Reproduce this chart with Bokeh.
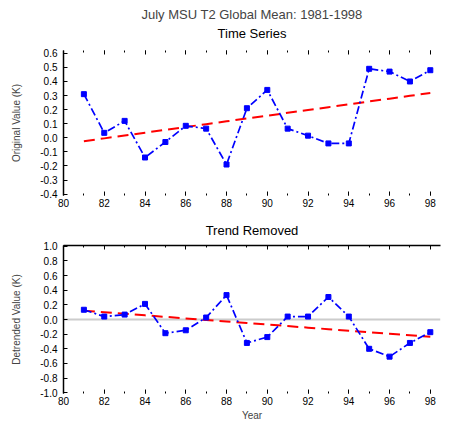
import numpy as np
from bokeh.plotting import figure
from bokeh.layouts import column
from bokeh.models import LinearAxis, FixedTicker, Span, Range1d
from bokeh.embed import file_html
from bokeh.resources import INLINE

# ---- data ----
years = [1981, 1982, 1983, 1984, 1985, 1986, 1987, 1988, 1989,
         1990, 1991, 1992, 1993, 1994, 1995, 1996, 1997, 1998]
original = [0.31, 0.035, 0.12, -0.14, -0.03, 0.085, 0.065, -0.19, 0.21,
            0.34, 0.065, 0.015, -0.04, -0.04, 0.49, 0.47, 0.40, 0.48]
detrended = [0.133, 0.04, 0.067, 0.213, -0.187, -0.147, 0.027, 0.333, -0.32,
             -0.24, 0.04, 0.04, 0.307, 0.04, -0.40, -0.507, -0.32, -0.173]

x_ticks = [1980, 1982, 1984, 1986, 1988, 1990, 1992, 1994, 1996, 1998]
x_tick_labels = ["80", "82", "84", "86", "88", "90", "92", "94", "96", "98"]
top_y_ticks = [-0.4, -0.3, -0.2, -0.1, 0.0, 0.1, 0.2, 0.3, 0.4, 0.5, 0.6]
top_y_labels = ["-0.4", "-0.3", "-0.2", "-0.1", "0.0", "0.1", "0.2", "0.3", "0.4", "0.5", "0.6"]
bot_y_ticks = [-1.0, -0.8, -0.6, -0.4, -0.2, 0.0, 0.2, 0.4, 0.6, 0.8, 1.0]
bot_y_labels = ["-1.0", "-0.8", "-0.6", "-0.4", "-0.2", "0.0", "0.2", "0.4", "0.6", "0.8", "1.0"]

main_title = "July MSU T2 Global Mean: 1981-1998"
top_subtitle = "Time Series"
bot_subtitle = "Trend Removed"
top_ylabel = "Original Value (K)"
bot_ylabel = "Detrended Value (K)"
xlabel = "Year"

FONT = "Liberation Sans"


def make_panel(values, yrange, yticks, ylabels, ylabel, subtitle, height,
               border_top, border_bottom, sub_standoff, with_main, show_top_line, xlab):
    p = figure(width=442, height=height, output_backend="svg", toolbar_location=None,
               x_range=Range1d(1980, 1998.5), y_range=Range1d(*yrange),
               min_border_left=63, min_border_right=2, min_border_top=border_top,
               min_border_bottom=border_bottom)
    p.xgrid.grid_line_color = None
    p.ygrid.grid_line_color = None
    p.outline_line_color = None

    # axes (below / left)
    xa = p.below[0]
    ya = p.left[0]
    xa.ticker = FixedTicker(ticks=x_ticks, minor_ticks=years)
    xa.major_label_overrides = {t: l for t, l in zip(x_ticks, x_tick_labels)}
    ya.ticker = FixedTicker(ticks=yticks)
    ya.major_label_overrides = {t: l for t, l in zip(yticks, ylabels)}
    for ax in (xa, ya):
        ax.major_tick_in = 4
        ax.major_tick_out = 0
        ax.minor_tick_in = 2
        ax.minor_tick_out = 0
        ax.major_label_text_font = FONT
        ax.major_label_text_font_size = "10px"
        ax.major_label_text_color = "black"
        ax.axis_label_text_font = FONT
        ax.axis_label_text_font_size = "10px"
        ax.axis_label_text_font_style = "normal"
        ax.major_tick_line_color = "black"
        ax.minor_tick_line_color = "black"
        ax.major_label_standoff = 3
    ya.minor_tick_line_color = None
    ya.axis_line_width = 1.5
    ya.major_label_standoff = 6
    ya.axis_label = ylabel
    ya.axis_label_standoff = 15
    xa.axis_line_color = None
    if xlab:
        xa.axis_label = xlab
        xa.axis_label_standoff = 2
        xa.major_label_standoff = 3

    # above: tick axis whose label carries the panel subtitle
    top = LinearAxis(ticker=FixedTicker(ticks=x_ticks, minor_ticks=years),
                     major_label_text_color=None, major_label_standoff=0,
                     major_tick_in=4, major_tick_out=0, minor_tick_in=2, minor_tick_out=0,
                     major_tick_line_color="black", minor_tick_line_color="black",
                     axis_label=subtitle, axis_label_text_font=FONT,
                     axis_label_text_font_size="13px", axis_label_text_font_style="normal",
                     axis_label_text_color="black", axis_label_standoff=sub_standoff)
    if show_top_line:
        top.axis_line_width = 1.5
    else:
        top.axis_line_color = None
    p.add_layout(top, "above")
    if with_main:
        p.title.text = main_title
        p.title.align = "center"
        p.title.text_font = FONT
        p.title.text_font_size = "13px"
        p.title.text_font_style = "normal"
        p.title.standoff = 2
    else:
        p.title.text = ""

    slope, icpt = np.polyfit(years, values, 1)
    trend = [slope * y + icpt for y in years]
    p.line(years, trend, line_color="red", line_width=2, line_dash="11 6")
    p.line(years, values, line_color="blue", line_width=1.7, line_dash="8 3 2 3")
    p.scatter(years, values, marker="square", size=5, color="blue")
    return p


p1 = make_panel(original, (-0.41, 0.62), top_y_ticks, top_y_labels, top_ylabel,
                top_subtitle, 212, 50, 17, 10, True, False, None)
p2 = make_panel(detrended, (-1.01, 1.01), bot_y_ticks, bot_y_labels, bot_ylabel,
                bot_subtitle, 211, 33, 26, 8, False, True, xlabel)
p2.add_layout(Span(location=0, dimension="width", line_color="#cccccc", line_width=2,
                   level="underlay"), "center")

layout = column(p1, p2, spacing=0)
open("out.html", "w").write(file_html(layout, INLINE))
